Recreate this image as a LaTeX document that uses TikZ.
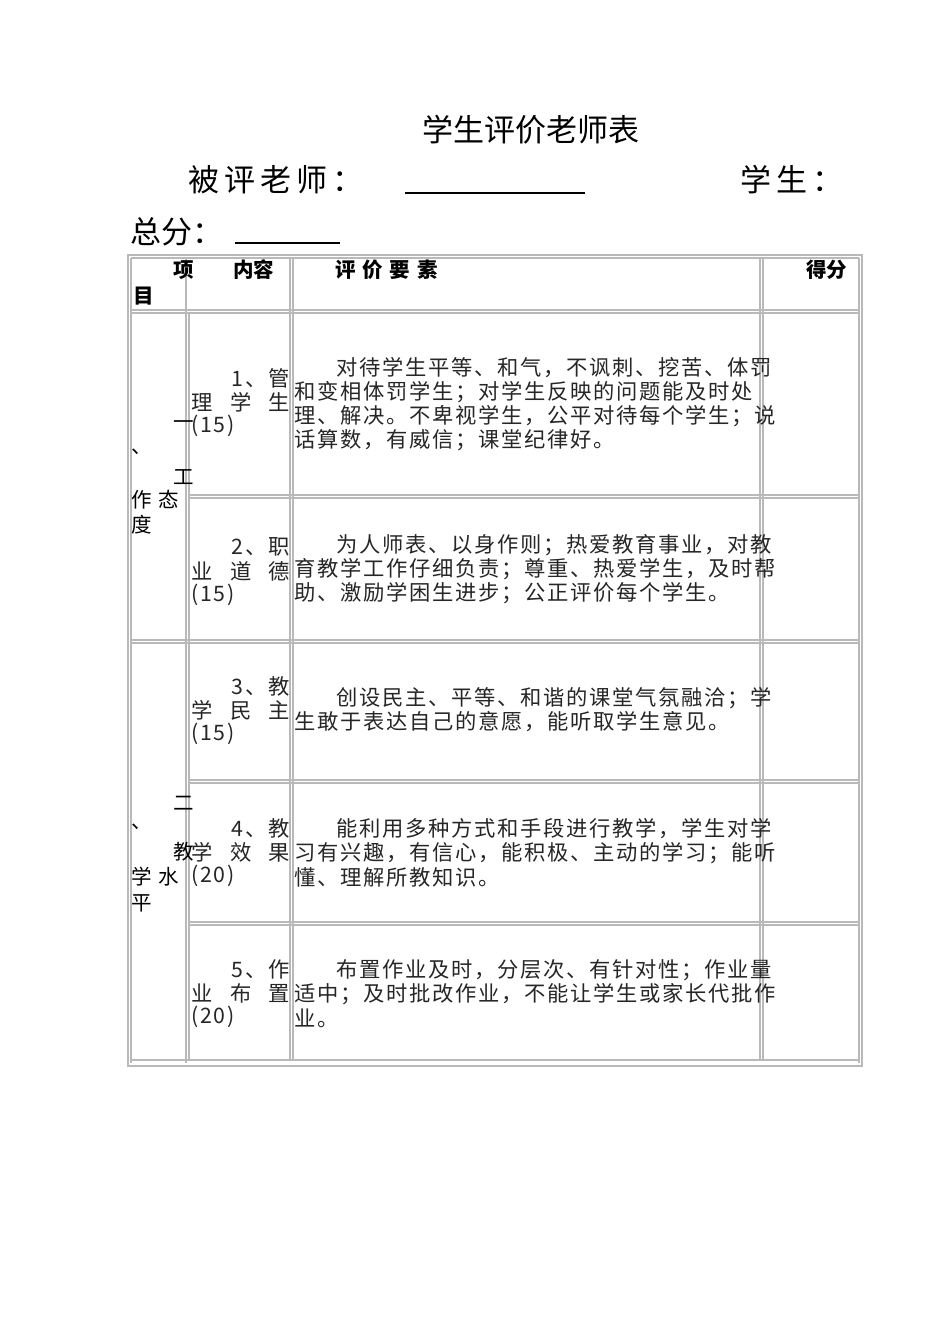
\documentclass[tikz,border=0pt]{standalone}
\usepackage{fontspec}
\setmainfont{Noto Sans CJK SC}
\newfontfamily\bodyf[LetterSpace=8]{Noto Sans CJK SC}
\begin{document}
\begin{tikzpicture}[x=1pt,y=-1pt,
 grid/.style={draw=gray!55,line width=1.6pt},
 t/.style={inner sep=0pt,anchor=west,font=\bodyf\fontsize{21.3}{24}\selectfont,text=black!85},
 tr/.style={t,anchor=east},
 g/.style={inner sep=0pt,anchor=west,font=\fontsize{20.5}{24}\selectfont},
 h/.style={inner sep=0pt,anchor=west,font=\fontsize{20.5}{24}\selectfont\bfseries}]
\useasboundingbox (0,0) rectangle (950,1344);
\fill[white] (0,0) rectangle (950,1344);
\node[inner sep=0pt,font=\fontsize{31}{34}\selectfont] (title) at (531,130) {学生评价老师表};
\node[h,font=\fontsize{31}{34}\selectfont] (bp) at (188,180) {被\,评\,老\,师\,：};
\coordinate (u1a) at (405,193); \coordinate (u1b) at (585,193);
\draw[line width=1.2pt] (u1a) -- (u1b);
\node[h,font=\fontsize{31}{34}\selectfont] (xs) at (740,180) {学\,生\,：};
\node[h,font=\fontsize{31}{34}\selectfont] (zf) at (130,232) {总分：};
\coordinate (u2a) at (235,243); \coordinate (u2b) at (340,243);
\draw[line width=1.2pt] (u2a) -- (u2b);
% grid
\draw[grid] (128,255) rectangle (862,1066);
\draw[grid] (131,258) -- (859,258);
\foreach \y in {310,640} {\draw[grid] (131,\y) -- (859,\y); \draw[grid] (131,\y+3) -- (859,\y+3);}
\foreach \y in {495,780,922} {\draw[grid] (189,\y) -- (859,\y); \draw[grid] (189,\y+3) -- (859,\y+3);}
\draw[grid] (131,1060) -- (859,1060);
\draw[grid] (131,258) -- (131,1063);
\draw[grid] (186,258) -- (186,1063);
\draw[grid] (189,313) -- (189,1060);
\draw[grid] (290,258) -- (290,1060);
\draw[grid] (293,258) -- (293,1060);
\draw[grid] (760,258) -- (760,1060);
\draw[grid] (763,258) -- (763,1060);
\draw[grid] (859,258) -- (859,1063);
% header
\node[h] (a1) at (173,270) {项};
\node[h] (a2) at (233,270) {内容};
\node[h] (a3) at (133,296) {目};
\node[h] (a4) at (335,270) {评\,\,价\,\,要\,\,素};
\node[h] (a5) at (806,270) {得分};
% groups
\node[g] (g1) at (173,425) {一};
\node[g] (g2) at (131,452) {、};
\node[g] (g3) at (173,477) {工};
\node[g] (g4) at (131,500) {作\,\,态};
\node[g] (g5) at (131,525) {度};
\node[g] (k1) at (173,803) {二};
\node[g] (k2) at (131,827) {、};
\node[g] (k3) at (173,852) {教};
\node[g] (k4) at (131,877) {学\,\,水};
\node[g] (k5) at (131,903) {平};
% col 2
\foreach \ya/\la/\lb/\lc in {378/1、管/理\hfill 学\hfill 生/(15), 547/2、职/业\hfill 道\hfill 德/(15), 686/3、教/学\hfill 民\hfill 主/(15), 828/4、教/学\hfill 效\hfill 果/(20), 969/5、作/业\hfill 布\hfill 置/(20)}{
 \node[tr] at (290,\ya) {\la};
 \node[t,text width=99pt] at (191,\ya+24) {\lb};
 \node[t] at (191,\ya+48) {\lc};
}
% col 3
\node[t] (c1) at (294,368) {\hspace{2em}对待学生平等、和气，不讽刺、挖苦、体罚};
\node[t] (c2) at (294,392) {和变相体罚学生；对学生反映的问题能及时处};
\node[t] (c3) at (294,416) {理、解决。不卑视学生，公平对待每个学生；说};
\node[t] (c4) at (294,440) {话算数，有威信；课堂纪律好。};
\node[t] (d1) at (294,545) {\hspace{2em}为人师表、以身作则；热爱教育事业，对教};
\node[t] (d2) at (294,569) {育教学工作仔细负责；尊重、热爱学生，及时帮};
\node[t] (d3) at (294,593) {助、激励学困生进步；公正评价每个学生。};
\node[t] (e1) at (294,698) {\hspace{2em}创设民主、平等、和谐的课堂气氛融洽；学};
\node[t] (e2) at (294,722) {生敢于表达自己的意愿，能听取学生意见。};
\node[t] (f1) at (294,829) {\hspace{2em}能利用多种方式和手段进行教学，学生对学};
\node[t] (f2) at (294,853) {习有兴趣，有信心，能积极、主动的学习；能听};
\node[t] (f3) at (294,877) {懂、理解所教知识。};
\node[t] (h1) at (294,970) {\hspace{2em}布置作业及时，分层次、有针对性；作业量};
\node[t] (h2) at (294,994) {适中；及时批改作业，不能让学生或家长代批作};
\node[t] (h3) at (294,1018) {业。};
\end{tikzpicture}
\end{document}
